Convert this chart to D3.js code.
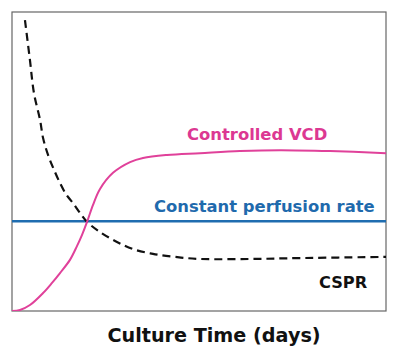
<!DOCTYPE html>
<html>
<head>
<meta charset="utf-8">
<script src="https://cdn.jsdelivr.net/npm/d3@7"></script>
<style>
  html, body { margin: 0; padding: 0; background: #fff; }
  svg { display: block; }
  text { font-family: "DejaVu Sans", Verdana, sans-serif; font-weight: bold; }
</style>
</head>
<body>
<svg id="chart" width="400" height="355"></svg>
<script>
// Culture time (days) and relative values
const vcdDays   = [0, 0.64, 1.44, 2.49, 3.21, 3.85, 4.65, 5.21, 5.61, 6.02, 6.50, 7.06, 8.10, 9.47, 10.51, 12.43, 15.08, 18.29, 21.50, 25.51, 30];
const vcdValues = [0, 0.33, 2.0, 6.0, 9.4, 12.7, 17.1, 21.7, 25.4, 29.8, 35.5, 40.8, 46.2, 49.8, 51.2, 52.2, 52.8, 53.5, 53.8, 53.5, 52.8];

const csprDays   = [1.04, 1.44, 1.76, 2.25, 2.49, 2.89, 3.37, 3.85, 4.33, 4.89, 5.45, 6.02, 7.06, 8.42, 9.71, 11.31, 13.07, 15.08, 19.09, 23.10, 30];
const csprValues = [97.3, 83.9, 72.9, 63.9, 57.9, 52.2, 47.2, 42.8, 39.1, 36.1, 32.8, 29.8, 26.4, 23.1, 20.7, 19.1, 18.1, 17.4, 17.4, 17.7, 18.1];

const perfDays   = [0, 30];
const perfValues = [30, 30];

const labels = ["Controlled VCD", "Constant perfusion rate", "CSPR"];
const xTitle = "Culture Time (days)";

const svg = d3.select("#chart");
const mLeft = 12, mRight = 386, mTop = 12, mBottom = 311;

const x = d3.scaleLinear().domain([0, 30]).range([mLeft, mRight]);
const y = d3.scaleLinear().domain([0, 100]).range([mBottom, mTop]);

svg.append("defs").append("clipPath").attr("id", "plotclip")
  .append("rect").attr("x", mLeft).attr("y", mTop).attr("width", mRight - mLeft).attr("height", mBottom - mTop);

// frame
svg.append("rect")
  .attr("x", x(0)).attr("y", y(100))
  .attr("width", x(30) - x(0)).attr("height", y(0) - y(100))
  .attr("fill", "none").attr("stroke", "#666").attr("stroke-width", 1.2);

const line = d3.line().x(d => x(d[0])).y(d => y(d[1])).curve(d3.curveCatmullRom.alpha(0.5));
const g = svg.append("g").attr("clip-path", "url(#plotclip)");

g.append("path")
  .attr("d", line(perfDays.map((d, i) => [d, perfValues[i]])))
  .attr("fill", "none").attr("stroke", "#1f6db0").attr("stroke-width", 2.6);

g.append("path")
  .attr("d", line(csprDays.map((d, i) => [d, csprValues[i]])))
  .attr("fill", "none").attr("stroke", "#111").attr("stroke-width", 2.2)
  .attr("stroke-dasharray", "8,5");

g.append("path")
  .attr("d", line(vcdDays.map((d, i) => [d, vcdValues[i]])))
  .attr("fill", "none").attr("stroke", "#e0419a").attr("stroke-width", 2);

svg.append("text").attr("x", 187).attr("y", 140)
  .attr("font-size", 16.4).attr("fill", "#dc3892").text(labels[0]);
svg.append("text").attr("x", 154).attr("y", 212)
  .attr("font-size", 16.4).attr("fill", "#1f6aad").text(labels[1]);
svg.append("text").attr("x", 319).attr("y", 288)
  .attr("font-size", 16.2).attr("fill", "#111").text(labels[2]);

svg.append("text").attr("x", 214).attr("y", 342)
  .attr("text-anchor", "middle")
  .attr("font-size", 19.2).attr("fill", "#111").text(xTitle);
</script>
</body>
</html>
